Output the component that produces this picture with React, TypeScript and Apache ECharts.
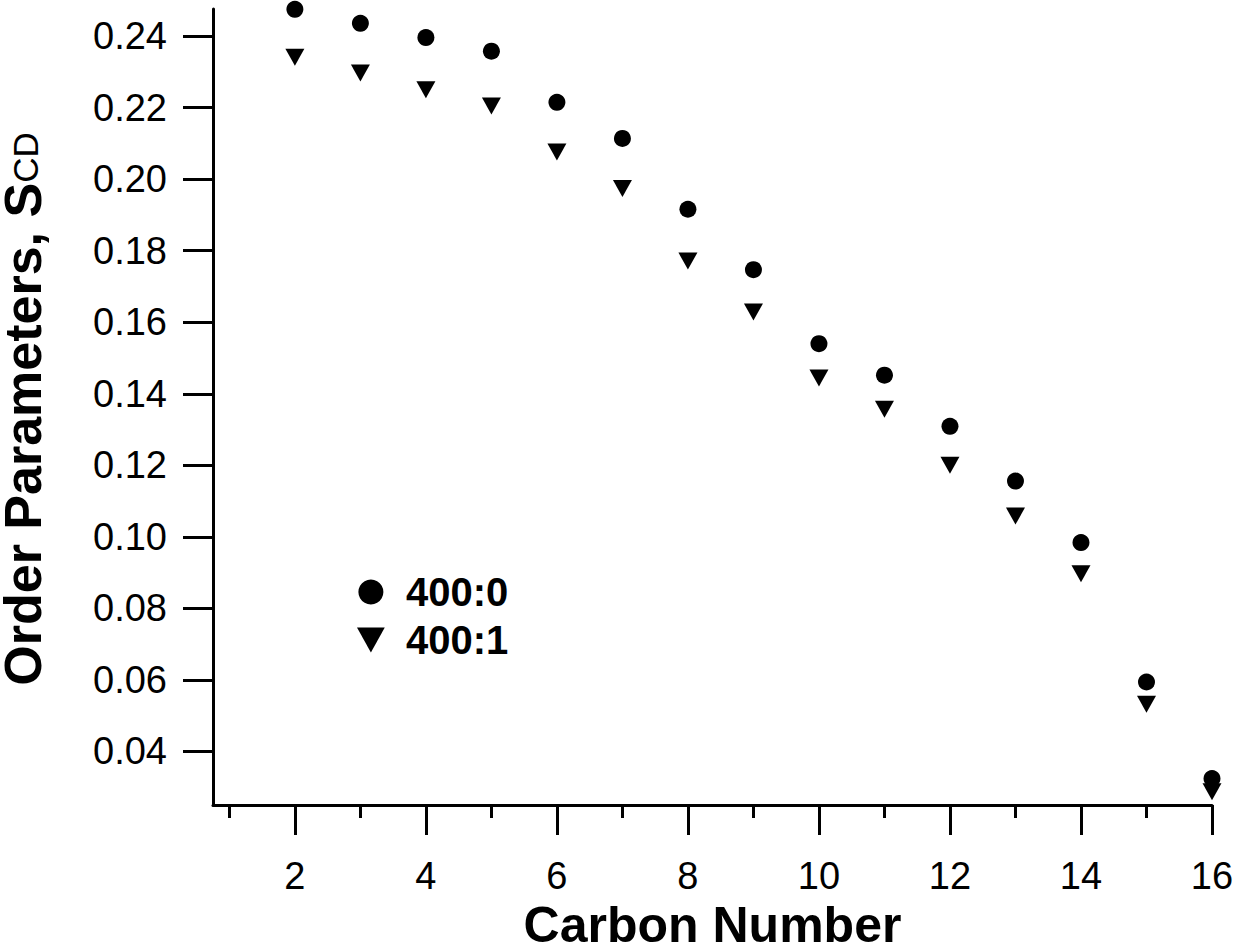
import React, { useEffect, useRef } from "react";
import * as echarts from "echarts";

const carbon = [2, 3, 4, 5, 6, 7, 8, 9, 10, 11, 12, 13, 14, 15, 16];
const s400_0 = [0.2475, 0.2436, 0.2396, 0.2358, 0.2215, 0.2114, 0.1916, 0.1747, 0.154, 0.1452, 0.1309, 0.1156, 0.0984, 0.0594, 0.0324];
const s400_1 = [0.2341, 0.2297, 0.225, 0.2205, 0.2076, 0.1974, 0.1771, 0.1629, 0.1444, 0.1357, 0.12, 0.1058, 0.0897, 0.0532, 0.0287];
const xMajorTicks = [2, 4, 6, 8, 10, 12, 14, 16];
const xMinorTicks = [1, 3, 5, 7, 9, 11, 13, 15];
const yTicks = [0.04, 0.06, 0.08, 0.1, 0.12, 0.14, 0.16, 0.18, 0.2, 0.22, 0.24];
const seriesNames = ["400:0", "400:1"];

const FONT = "'Liberation Sans', Arial, sans-serif";
const TRI = "path://M0,0L20,0L10,18Z";

export default function App() {
  const ref = useRef<HTMLDivElement>(null);
  useEffect(() => {
    if (!ref.current) return;
    const chart = echarts.init(ref.current, null, { renderer: "svg" });
    const lineStyle = { color: "#000", width: 3 };
    chart.setOption({
      animation: false,
      backgroundColor: "#fff",
      grid: { left: 213, right: 23, top: 9, bottom: 143, outerBoundsMode: "none", containLabel: false },
      xAxis: [
        {
          type: "value",
          min: 0.75,
          max: 16,
          position: "bottom",
          axisLine: { show: true, lineStyle },
          axisTick: { show: true, length: 30, lineStyle, customValues: xMajorTicks },
          axisLabel: {
            customValues: xMajorTicks,
            fontSize: 38,
            fontFamily: FONT,
            color: "#000",
            margin: 52,
          },
          splitLine: { show: false },
          name: "Carbon Number",
          nameLocation: "middle",
          nameGap: 99,
          nameTextStyle: { fontSize: 50, fontWeight: "bold", fontFamily: FONT, color: "#000", lineHeight: 40 },
        },
        {
          type: "value",
          min: 0.75,
          max: 16,
          position: "bottom",
          axisLine: { show: false },
          axisTick: { show: true, length: 13, lineStyle, customValues: xMinorTicks },
          axisLabel: { show: false },
          splitLine: { show: false },
        },
      ],
      yAxis: {
        type: "value",
        min: 0.025,
        max: 0.2476,
        axisLine: { show: true, lineStyle },
        axisTick: { show: true, length: 30, lineStyle, customValues: yTicks },
        axisLabel: {
          customValues: yTicks,
          formatter: (v: number) => v.toFixed(2),
          fontSize: 38,
          fontFamily: FONT,
          color: "#000",
          margin: 46,
        },
        splitLine: { show: false },
      },
      legend: {
        orient: "vertical",
        left: 352,
        top: 567,
        itemWidth: 60,
        itemHeight: 25,
        itemGap: 8,
        itemStyle: { opacity: 1 },
        data: [
          { name: seriesNames[0], icon: "circle" },
          { name: seriesNames[1], icon: TRI },
        ],
        textStyle: { fontSize: 40, fontWeight: "bold", fontFamily: FONT, color: "#000", lineHeight: 40 },
      },
      graphic: [
        {
          type: "text",
          x: 23,
          y: 409,
          rotation: Math.PI / 2,
          style: {
            text: "{a|Order Parameters, S}{b|CD}",
            align: "center",
            verticalAlign: "middle",
            fill: "#000",
            rich: {
              a: { fontSize: 52, fontWeight: "bold", fontFamily: FONT, fill: "#000", lineHeight: 40, verticalAlign: "middle" },
              b: { fontSize: 35, fontFamily: FONT, fill: "#000", lineHeight: 40, verticalAlign: "bottom" },
            },
          },
        },
      ],
      series: [
        {
          name: seriesNames[0],
          type: "scatter",
          symbol: "circle",
          symbolSize: 17,
          clip: false,
          itemStyle: { color: "#000", opacity: 1 },
          data: carbon.map((c, i) => [c, s400_0[i]]),
        },
        {
          name: seriesNames[1],
          type: "scatter",
          symbol: TRI,
          symbolSize: [19, 17],
          clip: false,
          itemStyle: { color: "#000", opacity: 1 },
          data: carbon.map((c, i) => [c, s400_1[i]]),
        },
      ],
    });
    return () => chart.dispose();
  }, []);
  return (
    <div
      ref={ref}
      style={{ position: "fixed", left: 0, top: 0, width: 1235, height: 948, background: "#fff" }}
    />
  );
}
